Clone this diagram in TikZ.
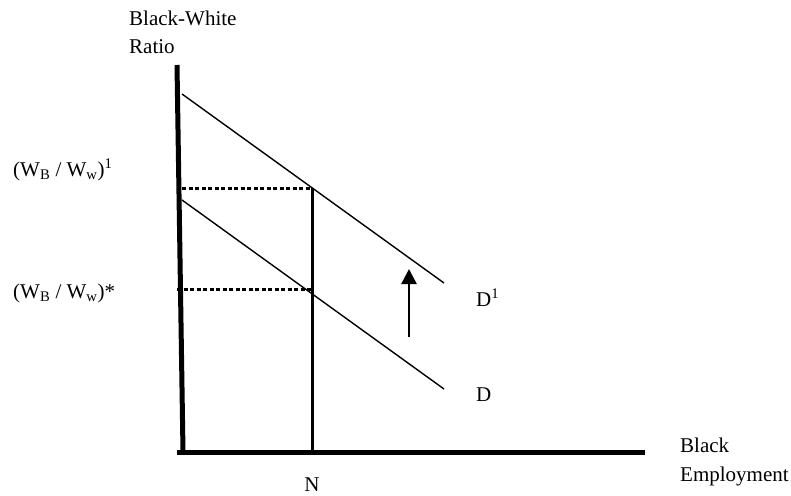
\documentclass[tikz,border=0pt]{standalone}
\usepackage{fontspec}
\setmainfont{Liberation Serif}
\usetikzlibrary{arrows.meta}
\begin{document}
\begin{tikzpicture}[x=1pt,y=-1pt,
  lbl/.style={anchor=base west,inner sep=0pt,font=\fontsize{21}{25}\selectfont},
  axisline/.style={line width=5pt},
  curve/.style={line width=1.4pt},
  guide/.style={line width=3pt,dash pattern=on 4pt off 2.5pt},
  vline/.style={line width=3pt},
  shiftarrow/.style={line width=2.5pt,-{Triangle[length=15pt,width=15pt]}}]
\useasboundingbox (0,0) rectangle (791,495);
% coordinates
\coordinate (ytop) at (177,65);
\coordinate (orig) at (183,452);
\coordinate (xo) at (177,452);
\coordinate (xend) at (645,452);
\coordinate (d1s) at (182,94);
\coordinate (d1e) at (444,283);
\coordinate (ds) at (182,200);
\coordinate (de) at (444,389);
\coordinate (p1l) at (182,188);
\coordinate (p1) at (312,188);
\coordinate (p0l) at (177,289);
\coordinate (p0) at (312,289);
\coordinate (nb) at (312,452);
\coordinate (as) at (409,337);
\coordinate (ae) at (409,269);
% axes
\draw[axisline] (ytop) -- (orig);
\draw[axisline] (xo) -- (xend);
% demand curves
\draw[curve] (d1s) -- (d1e);
\draw[curve] (ds) -- (de);
% guides
\draw[guide] (p1l) -- (p1);
\draw[guide] (p0l) -- (p0);
\draw[vline] (p1) -- (nb);
% shift arrow
\draw[shiftarrow] (as) -- (ae);
% labels
\node[lbl] (ylab1) at (129,26) {Black-White};
\node[lbl] (ylab2) at (129,53) {Ratio};
\node[lbl] (w1) at (13,176) {(W\textsubscript{B} / W\textsubscript{w})\textsuperscript{1}};
\node[lbl] (w0) at (13,298) {(W\textsubscript{B} / W\textsubscript{w})*};
\node[lbl] (dl1) at (476,306) {D\textsuperscript{1}};
\node[lbl] (dl) at (476,401) {D};
\node[lbl] (xlab1) at (680,452) {Black};
\node[lbl] (xlab2) at (680,481) {Employment};
\node[lbl,anchor=base] (nlab) at (312,491) {N};
\end{tikzpicture}
\end{document}
